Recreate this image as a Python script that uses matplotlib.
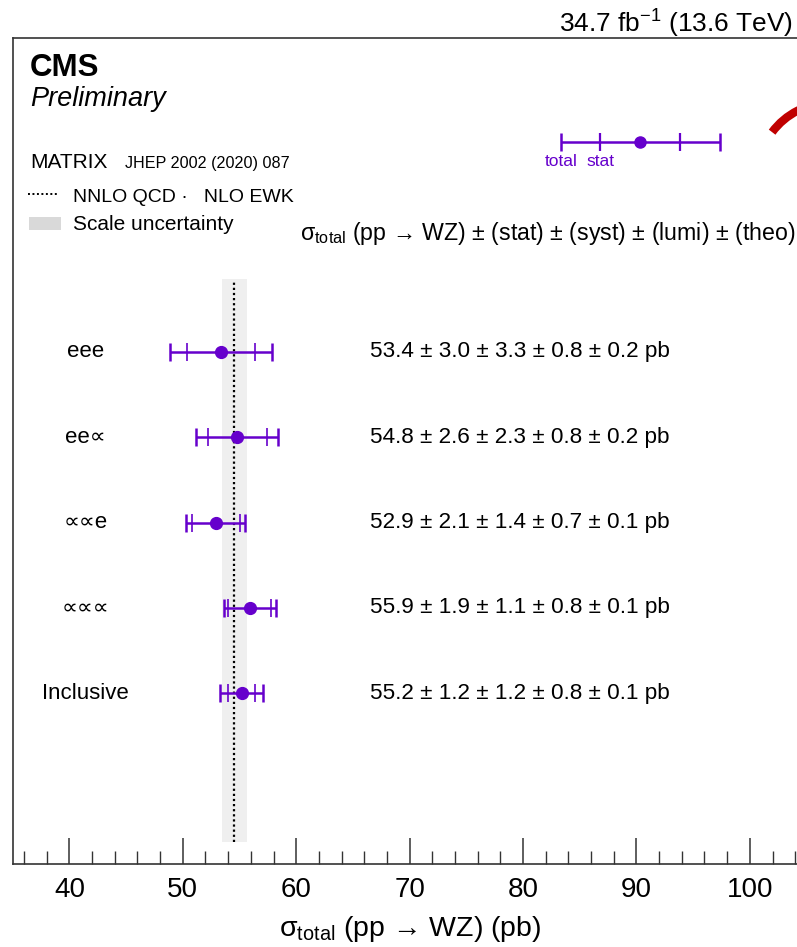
import matplotlib
matplotlib.use("Agg")
import matplotlib.pyplot as plt
from matplotlib.patches import Arc, Rectangle
from matplotlib.lines import Line2D
from matplotlib.transforms import IdentityTransform

plt.rcParams['font.family'] = ['Liberation Sans', 'DejaVu Sans']
plt.rcParams['mathtext.fontset'] = 'custom'
plt.rcParams['mathtext.rm'] = 'Liberation Sans'
plt.rcParams['mathtext.it'] = 'Liberation Sans:italic'
plt.rcParams['mathtext.bf'] = 'Liberation Sans:bold'

# measurements per channel
channels = ['eee', 'ee∝', '∝∝e', '∝∝∝', 'Inclusive']
xsec = [53.4, 54.8, 52.9, 55.9, 55.2]
stat = [3.0, 2.6, 2.1, 1.9, 1.2]
syst = [3.3, 2.3, 1.4, 1.1, 1.2]
lumi = [0.8, 0.8, 0.7, 0.8, 0.8]
theo = [0.2, 0.2, 0.1, 0.1, 0.1]
total = [4.5, 3.6, 2.6, 2.3, 1.9]

# MATRIX prediction
pred = 54.5
pred_lo = 53.45
pred_hi = 55.7

purple = '#6600cc'
W, H = 797, 947

fig = plt.figure(figsize=(W / 100, H / 100), dpi=100)

def px(x, y):
    return x / W, 1 - y / H

ax = fig.add_axes([12.7 / W, (H - 864.3) / H, 1 - 12.7 / W, (864.3 - 38) / H])
ax.set_xlim(35, 104.16)
ax.set_ylim(-1.0, 8.67)

rows = [5, 4, 3, 2, 1]

ax.fill_betweenx([-0.74, 5.85], pred_lo, pred_hi, color='#efefef', lw=0, zorder=1)
ax.plot([pred, pred], [-0.74, 5.83], color='black', ls=(0, (1, 1.3)), lw=1.6, zorder=2)

ax.errorbar(xsec, rows, xerr=total, fmt='o', color=purple, ms=8.5, elinewidth=1.8,
            capsize=6.5, capthick=1.8, zorder=4)
lo = [x - s for x, s in zip(xsec, stat)]
hi = [x + s for x, s in zip(xsec, stat)]
ax.plot(lo + hi, rows + rows, ls='none', marker='|', ms=13, mew=1.4, color=purple,
        alpha=0.85, zorder=4)

for name, y in zip(channels, rows):
    ax.text(41.4, y, name, ha='center', va='center', fontsize=16)

for i, y in enumerate(rows):
    s = '%.1f ± %.1f ± %.1f ± %.1f ± %.1f pb' % (xsec[i], stat[i], syst[i], lumi[i], theo[i])
    ax.text(66.5, y, s, ha='left', va='center', fontsize=16.2)

# error bar legend
ly = 7.455
ax.errorbar([90.33], [ly], xerr=[7.0], fmt='o', color=purple, ms=8, elinewidth=1.8,
            capsize=6.5, capthick=1.8, clip_on=False)
ax.plot([90.33 - 3.53, 90.33 + 3.53], [ly, ly], ls='none', marker='|', ms=13, mew=1.6,
        color=purple)
ax.text(83.35, 7.22, 'total', color=purple, ha='center', va='center', fontsize=12.5)
ax.text(86.79, 7.22, 'stat', color=purple, ha='center', va='center', fontsize=12.5)

ax.set_yticks([])
ax.set_xticks(range(40, 101, 10))
ax.set_xticks(range(36, 105, 2), minor=True)
ax.tick_params(axis='x', which='major', direction='in', length=19, width=1.1,
               labelsize=20, pad=9, color='#333333')
ax.tick_params(axis='x', which='minor', direction='in', length=9.5, width=1.0,
               color='#333333')
for sp in ['left', 'top', 'bottom']:
    ax.spines[sp].set_linewidth(1.2)
    ax.spines[sp].set_color('#333333')
ax.spines['right'].set_visible(False)

ax.set_xlabel('σ$_{\\mathrm{total}}$ (pp → WZ) (pb)', fontsize=20.5)
ax.xaxis.set_label_coords((410 - 12.7) / (W - 12.7), -0.06)

# texts outside the data area
fig.text(*px(793, 33), r'34.7 fb$^{-1}$ (13.6 TeV)', ha='right', va='baseline', fontsize=18.9)
fig.text(*px(30, 76), 'CMS', ha='left', va='baseline', fontsize=22.5, fontweight='bold')
fig.text(*px(30, 106), 'Preliminary', ha='left', va='baseline', fontsize=19.5, style='italic')
fig.text(*px(30, 168), 'MATRIX', ha='left', va='baseline', fontsize=15)
fig.text(*px(125, 168), 'JHEP 2002 (2020) 087', ha='left', va='baseline', fontsize=11.6)
fig.add_artist(Line2D([28 / W, 58 / W], [1 - 194 / H] * 2, color='black',
                      ls=(0, (1, 1.3)), lw=1.4))
fig.text(*px(73, 202), 'NNLO QCD ·   NLO EWK', ha='left', va='baseline', fontsize=14)
fig.add_artist(Rectangle(px(29, 230), 32 / W, 13 / H, color='#d9d9d9', lw=0))
fig.text(*px(73, 230), 'Scale uncertainty', ha='left', va='baseline', fontsize=15)
fig.text(*px(300, 240), 'σ$_{\\mathrm{total}}$ (pp → WZ) ± (stat) ± (syst) ± (lumi) ± (theo)',
         ha='left', va='baseline', fontsize=16.7)

# piece of logo cut by the edge
fig.add_artist(Arc((830, H - 175), 144, 144, theta1=90, theta2=143.5, lw=6,
                   color='#c00000', transform=IdentityTransform()))

fig.savefig('out.png', dpi=100)
